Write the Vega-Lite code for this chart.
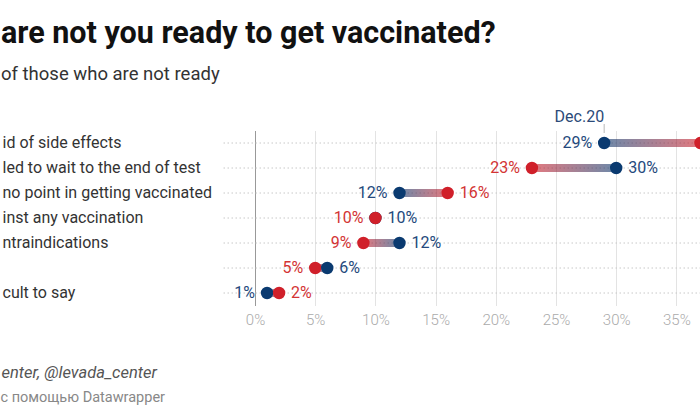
{
  "$schema": "https://vega.github.io/schema/vega-lite/v6.json",
  "width": 477,
  "height": 175,
  "autosize": {"type": "none"},
  "padding": {"left": 223, "top": 130.5, "right": 0, "bottom": 114.5},
  "background": "white",
  "config": {
    "font": "Roboto",
    "view": {"stroke": null},
    "axisX": {
      "domain": false,
      "ticks": false,
      "labelPadding": 7,
      "labelFontSize": 15,
      "labelColor": "#aaaaaa",
      "labelFontWeight": 300,
      "grid": true,
      "gridColor": "#e3e3e3",
      "titleX": -222,
      "titleY": 66.5,
      "titleAlign": "left",
      "titleAnchor": "start",
      "titleBaseline": "middle",
      "titleFontStyle": "italic",
      "titleFontWeight": "normal",
      "titleFontSize": 16.5,
      "titleColor": "#555555"
    },
    "axisY": {
      "titleAngle": 0,
      "titleX": -223,
      "titleY": 266.5,
      "titleAlign": "left",
      "titleAnchor": "start",
      "titleBaseline": "middle",
      "titleFontSize": 14.5,
      "titleFontWeight": "normal",
      "titleColor": "#888888",
      "labelAlign": "left",
      "labelPadding": 221,
      "ticks": false,
      "tickSize": 0,
      "domain": false,
      "labelFontSize": 16,
      "labelColor": "#333333",
      "labelLimit": 0,
      "grid": true,
      "gridDash": [1.5, 2.5],
      "gridColor": "#c8c8c8",
      "bandPosition": 0.5
    }
  },
  "title": {
    "text": "are not you ready to get vaccinated?",
    "subtitle": "of those who are not ready",
    "anchor": "start",
    "frame": "group",
    "dx": -222,
    "offset": 26,
    "fontSize": 30.5,
    "fontWeight": "bold",
    "color": "#111111",
    "subtitleFontSize": 18.5,
    "subtitleColor": "#333333",
    "subtitlePadding": 15.5
  },
  "data": {
    "values": [
      {"reason": "id of side effects", "dec": 0.29, "later": 0.37},
      {"reason": "led to wait to the end of test", "dec": 0.30, "later": 0.23},
      {"reason": "no point in getting vaccinated", "dec": 0.12, "later": 0.16},
      {"reason": "inst any vaccination", "dec": 0.10, "later": 0.10},
      {"reason": "ntraindications", "dec": 0.12, "later": 0.09},
      {"reason": " ", "dec": 0.06, "later": 0.05},
      {"reason": "cult to say", "dec": 0.01, "later": 0.02}
    ]
  },
  "encoding": {
    "y": {
      "field": "reason",
      "type": "nominal",
      "sort": ["id of side effects", "led to wait to the end of test", "no point in getting vaccinated", "inst any vaccination", "ntraindications", " ", "cult to say"],
      "scale": {"paddingInner": 0, "paddingOuter": 0},
      "title": "с помощью Datawrapper"
    }
  },
  "layer": [
    {
      "transform": [{"filter": "datum.dec < datum.later"}],
      "mark": {
        "type": "bar",
        "height": 8,
        "opacity": 0.6,
        "color": {"gradient": "linear", "x1": 0, "x2": 1, "y1": 0, "y2": 0, "stops": [{"offset": 0, "color": "#0a3a70"}, {"offset": 1, "color": "#d0202a"}]}
      },
      "encoding": {
        "x": {
          "field": "dec",
          "type": "quantitative",
          "scale": {"domain": [-0.0266, 0.3696], "nice": false, "zero": false},
          "axis": {
            "values": [0, 0.05, 0.1, 0.15, 0.2, 0.25, 0.3, 0.35],
            "format": ".0%",
            "gridColor": {"condition": {"test": "datum.value === 0", "value": "#999999"}, "value": "#e3e3e3"}
          },
          "title": "enter, @levada_center"
        },
        "x2": {"field": "later"}
      }
    },
    {
      "transform": [{"filter": "datum.later < datum.dec"}],
      "mark": {
        "type": "bar",
        "height": 8,
        "opacity": 0.6,
        "color": {"gradient": "linear", "x1": 0, "x2": 1, "y1": 0, "y2": 0, "stops": [{"offset": 0, "color": "#d0202a"}, {"offset": 1, "color": "#0a3a70"}]}
      },
      "encoding": {
        "x": {"field": "later", "type": "quantitative", "title": "enter, @levada_center"},
        "x2": {"field": "dec"}
      }
    },
    {
      "transform": [{"filter": "datum.reason === 'id of side effects'"}],
      "mark": {"type": "tick", "orient": "vertical", "size": 9, "thickness": 1, "yOffset": -14.5, "color": "#999999"},
      "encoding": {
        "x": {"field": "dec", "type": "quantitative", "title": "enter, @levada_center"}
      }
    },
    {
      "transform": [{"filter": "datum.reason === 'id of side effects'"}],
      "mark": {"type": "text", "align": "right", "baseline": "middle", "dy": -26, "fontSize": 16, "color": "#2b4a78"},
      "encoding": {
        "x": {"field": "dec", "type": "quantitative", "title": "enter, @levada_center"},
        "text": {"value": "Dec.20"}
      }
    },
    {
      "transform": [{"fold": ["dec", "later"], "as": ["period", "value"]}],
      "mark": {"type": "circle", "size": 154, "opacity": 1},
      "encoding": {
        "x": {"field": "value", "type": "quantitative", "title": "enter, @levada_center"},
        "color": {"field": "period", "type": "nominal", "scale": {"domain": ["dec", "later"], "range": ["#0a3a70", "#d0202a"]}, "legend": null},
        "order": {"field": "value", "type": "quantitative"}
      }
    },
    {
      "transform": [{"filter": "datum.dec < datum.later"}],
      "mark": {"type": "text", "align": "right", "baseline": "middle", "dx": -12, "fontSize": 16, "color": "#24497c"},
      "encoding": {
        "x": {"field": "dec", "type": "quantitative", "title": "enter, @levada_center"},
        "text": {"field": "dec", "type": "quantitative", "format": ".0%"}
      }
    },
    {
      "transform": [{"filter": "datum.dec >= datum.later"}],
      "mark": {"type": "text", "align": "left", "baseline": "middle", "dx": 12, "fontSize": 16, "color": "#24497c"},
      "encoding": {
        "x": {"field": "dec", "type": "quantitative", "title": "enter, @levada_center"},
        "text": {"field": "dec", "type": "quantitative", "format": ".0%"}
      }
    },
    {
      "transform": [{"filter": "datum.later <= datum.dec"}],
      "mark": {"type": "text", "align": "right", "baseline": "middle", "dx": -12, "fontSize": 16, "color": "#d33434"},
      "encoding": {
        "x": {"field": "later", "type": "quantitative", "title": "enter, @levada_center"},
        "text": {"field": "later", "type": "quantitative", "format": ".0%"}
      }
    },
    {
      "transform": [{"filter": "datum.later > datum.dec"}],
      "mark": {"type": "text", "align": "left", "baseline": "middle", "dx": 12, "fontSize": 16, "color": "#d33434"},
      "encoding": {
        "x": {"field": "later", "type": "quantitative", "title": "enter, @levada_center"},
        "text": {"field": "later", "type": "quantitative", "format": ".0%"}
      }
    }
  ]
}
